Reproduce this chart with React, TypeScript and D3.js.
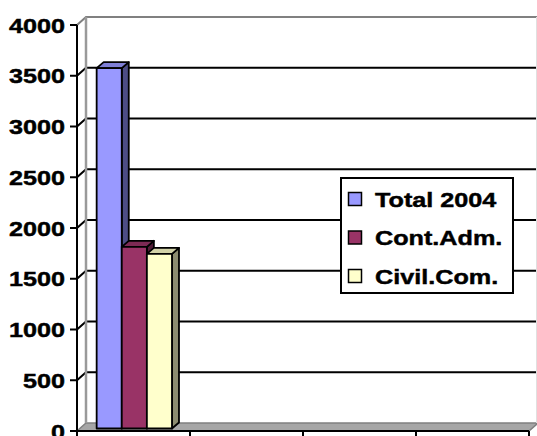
import React from "react";
import * as d3 from "d3";

// Categories along the floor; only the first one carries values.
const categories = ["2004", "c2", "c3", "c4"];
const seriesNames = ["Total 2004", "Cont.Adm.", "Civil.Com."];
const total2004: (number | null)[] = [3550, null, null, null];
const contAdm: (number | null)[] = [1790, null, null, null];
const civilCom: (number | null)[] = [1720, null, null, null];
const yTicks = [0, 500, 1000, 1500, 2000, 2500, 3000, 3500, 4000];

const seriesValues = [total2004, contAdm, civilCom];
const seriesColors = [
  { front: "#9999FF", top: "#7F7FD6", side: "#4D4D85" },
  { front: "#993366", top: "#7D2A54", side: "#511B36" },
  { front: "#FFFFCC", top: "#D2D2A8", side: "#8C8C70" },
];

const W = 537;
const H = 436;
// wall depth offset (front plane -> back wall)
const DX = 9;
const DY = -8;
// bar front face offset and bar depth
const BF = { dx: 2.7, dy: -2.5 };
const BD = { dx: 7, dy: -6 };

const FONT = "'Liberation Sans', Arial, sans-serif";
const FONT_SIZE = 21;
const STRETCH = 1.2;

export default function App() {
  const y = d3.scaleLinear().domain([0, 4000]).range([431, 25]);
  const x = d3.scaleBand().domain(categories).range([77, 529]);
  const xs = d3
    .scaleBand()
    .domain(seriesNames)
    .range([0, x.bandwidth()])
    .paddingOuter(0.75)
    .align(0.45);

  const x0 = x.range()[0];
  const x1 = x.range()[1];
  const yBack = (v: number) => y(v) + DY;

  const bars: React.ReactNode[] = [];
  categories.forEach((c, ci) => {
    seriesNames.forEach((s, si) => {
      const v = seriesValues[si][ci];
      if (v == null) return;
      const l = (x(c) as number) + (xs(s) as number) + BF.dx;
      const r = l + xs.bandwidth();
      const t = y(v) + BF.dy;
      const b = y(0) + BF.dy;
      const col = seriesColors[si];
      bars.push(
        <g key={`${c}-${s}`} stroke="#000" strokeWidth={1.8} strokeLinejoin="round">
          <polygon
            fill={col.side}
            points={`${r},${t} ${r + BD.dx},${t + BD.dy} ${r + BD.dx},${b + BD.dy} ${r},${b}`}
          />
          <polygon
            fill={col.top}
            points={`${l},${t} ${r},${t} ${r + BD.dx},${t + BD.dy} ${l + BD.dx},${t + BD.dy}`}
          />
          <rect x={l} y={t} width={r - l} height={b - t} fill={col.front} />
        </g>
      );
    });
  });

  const legendX = 341;
  const legendY = 178;
  const legendRows = [199, 237.5, 276];

  const textProps = {
    fontFamily: FONT,
    fontWeight: "bold" as const,
    fontSize: FONT_SIZE,
    fill: "#000",
    stroke: "#000",
    strokeWidth: 0.45,
  };

  return (
    <svg
      width={W}
      height={H}
      style={{ position: "absolute", left: 0, top: 0, background: "#fff" }}
    >
      {/* floor */}
      <polygon
        points={`${x0},${y(0)} ${x1},${y(0)} ${x1 + DX},${yBack(0)} ${x0 + DX},${yBack(0)}`}
        fill="#A6A6A6"
        stroke="#808080"
        strokeWidth={1.5}
      />
      {/* gridlines on side wall and back wall */}
      {yTicks
        .filter((v) => v > 0 && v < 4000)
        .map((v) => (
          <path
            key={v}
            d={`M${x0},${y(v)} L${x0 + DX},${yBack(v)} H${W}`}
            fill="none"
            stroke="#000"
            strokeWidth={2}
          />
        ))}
      {/* wall edges */}
      <path
        d={`M${x0},${y(4000)} L${x0 + DX},${yBack(4000)} H${W}`}
        fill="none"
        stroke="#808080"
        strokeWidth={2}
      />
      <line
        x1={x0 + DX}
        x2={x0 + DX}
        y1={yBack(4000)}
        y2={yBack(0)}
        stroke="#9A9A9A"
        strokeWidth={2.5}
      />
      <line x1={W - 0.5} x2={W - 0.5} y1={yBack(4000)} y2={yBack(0)} stroke="#E0E0E0" strokeWidth={1} />

      {bars}

      {/* value axis */}
      <line x1={x0} x2={x0} y1={y(4000)} y2={y(0)} stroke="#000" strokeWidth={2} />
      {yTicks.map((v) => (
        <g key={v}>
          <line x1={x0 - 7} x2={x0} y1={y(v)} y2={y(v)} stroke="#000" strokeWidth={2} />
          <text
            transform={`translate(65,${y(v) + 7.5}) scale(${STRETCH},1)`}
            textAnchor="end"
            {...textProps}
          >
            {v}
          </text>
        </g>
      ))}

      {/* category axis */}
      <line x1={x0} x2={x1} y1={y(0)} y2={y(0)} stroke="#000" strokeWidth={2} />
      {[...categories.map((c) => x(c) as number), x1].map((px, i) => (
        <line key={i} x1={px} x2={px} y1={y(0)} y2={y(0) + 6} stroke="#000" strokeWidth={2} />
      ))}

      {/* legend */}
      <rect
        x={legendX}
        y={legendY}
        width={172}
        height={115}
        fill="#fff"
        stroke="#000"
        strokeWidth={2}
      />
      {seriesNames.map((s, i) => (
        <g key={s}>
          <rect
            x={348.5}
            y={legendRows[i] - 6.5}
            width={13}
            height={13}
            fill={seriesColors[i].front}
            stroke="#000"
            strokeWidth={1.5}
          />
          <text
            transform={`translate(375,${legendRows[i] + 7.5}) scale(${STRETCH},1)`}
            {...textProps}
          >
            {s}
          </text>
        </g>
      ))}
    </svg>
  );
}
